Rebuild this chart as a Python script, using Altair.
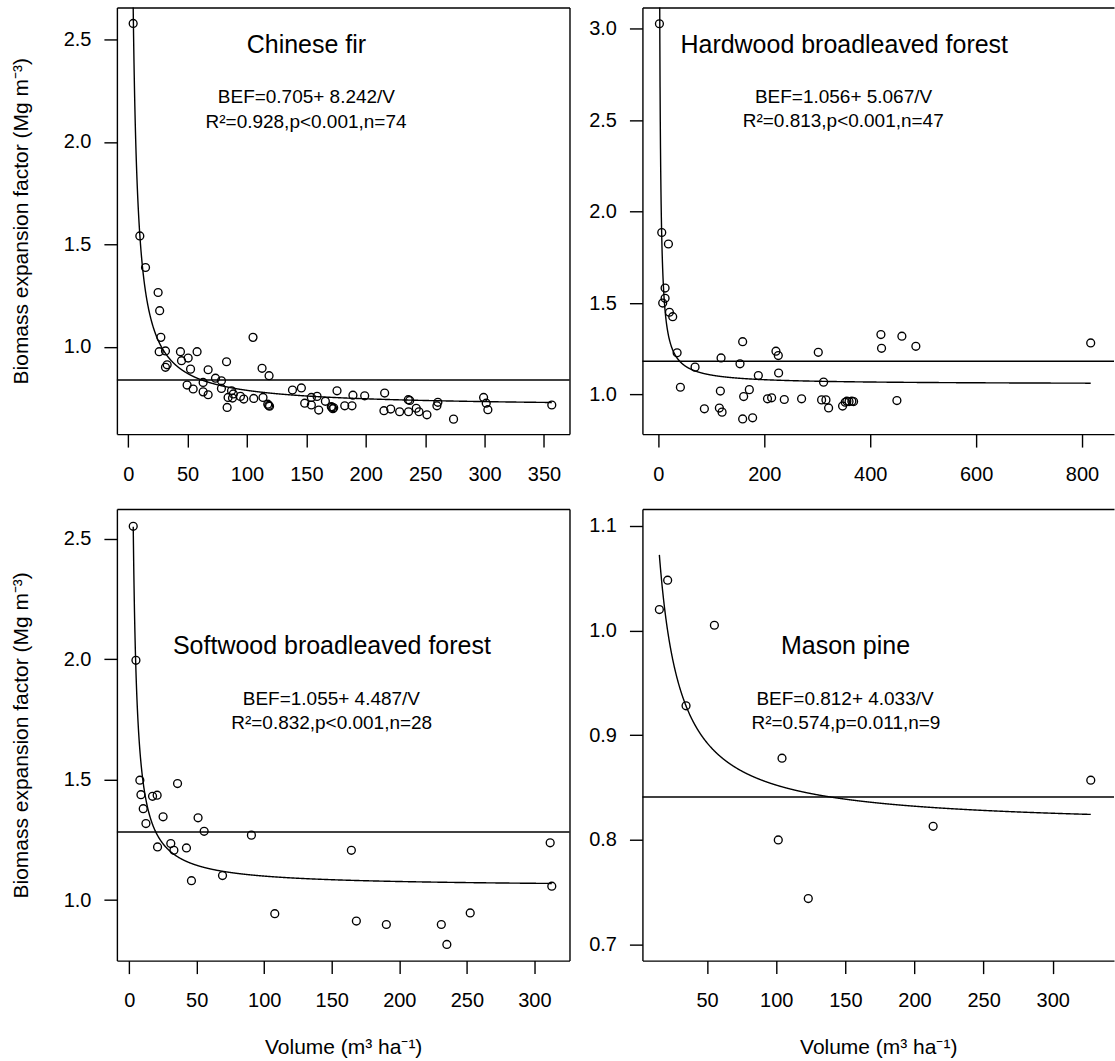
import altair as alt
import pandas as pd

FONT = "Liberation Sans"

# ---- Chinese fir ----
cf_v = [4.2, 9.8, 14.6, 25.2, 26.5, 27.5, 26.1, 31.4, 31.4, 32.8, 44.0, 44.9, 50.5, 52.5, 58.0,
        49.6, 54.7, 63.1, 63.1, 67.3, 67.3, 73.5, 78.5, 78.5, 82.8, 83.3, 84.1, 87.0, 87.8, 94.5,
        97.3, 105.1, 105.7, 112.7, 113.5, 118.6, 117.5, 118.3, 119.0, 138.3, 145.8, 148.6, 154.2,
        154.2, 159.0, 160.4, 166.0, 171.5, 172.3, 173.0, 175.8, 182.3, 188.4, 189.2, 199.1, 215.9,
        215.3, 221.0, 228.5, 236.0, 235.8, 237.0, 242.5, 244.8, 251.5, 260.7, 259.9, 273.9, 299.2,
        301.4, 302.8, 356.6, 88.5, 171.0]
cf_bef = [2.578, 1.541, 1.387, 1.265, 1.176, 1.046, 0.976, 0.980, 0.900, 0.912, 0.976, 0.932, 0.945,
          0.891, 0.976, 0.813, 0.794, 0.826, 0.780, 0.766, 0.888, 0.847, 0.834, 0.797, 0.927, 0.704,
          0.753, 0.785, 0.750, 0.758, 0.745, 1.046, 0.748, 0.895, 0.753, 0.859, 0.720, 0.714, 0.710,
          0.789, 0.799, 0.725, 0.753, 0.716, 0.758, 0.691, 0.734, 0.705, 0.698, 0.702, 0.785, 0.712,
          0.712, 0.764, 0.761, 0.774, 0.688, 0.696, 0.683, 0.683, 0.742, 0.738, 0.700, 0.683, 0.668,
          0.729, 0.712, 0.647, 0.753, 0.725, 0.693, 0.716, 0.770, 0.708]

# ---- Hardwood broadleaved forest ----
hw_v = [1.9, 6.3, 18.9, 12.6, 12.6, 8.1, 20.8, 27.0, 35.3, 41.5, 69.2, 86.8, 115.1, 120.2, 118.3,
        117.0, 154.1, 159.1, 161.0, 159.1, 171.7, 177.9, 188.7, 206.0, 213.8, 222.0, 226.4, 227.0,
        237.7, 270.4, 301.9, 311.9, 308.2, 316.4, 321.4, 347.8, 352.8, 355.9, 360.0, 365.3, 368.6,
        420.2, 421.4, 459.8, 450.4, 486.2, 816.4]
hw_bef = [3.027, 1.886, 1.823, 1.582, 1.526, 1.500, 1.450, 1.426, 1.228, 1.040, 1.150, 0.922, 0.926,
          0.904, 1.200, 1.019, 1.168, 1.289, 0.989, 0.867, 1.027, 0.873, 1.104, 0.977, 0.982, 1.237,
          1.213, 1.118, 0.973, 0.977, 1.231, 1.068, 0.971, 0.971, 0.927, 0.937, 0.958, 0.964, 0.962,
          0.964, 0.962, 1.328, 1.253, 1.319, 0.967, 1.264, 1.282]

# ---- Softwood broadleaved forest ----
sw_v = [3.0, 5.0, 7.9, 35.8, 8.7, 17.3, 20.7, 10.4, 12.4, 25.1, 51.0, 55.5, 90.5, 21.0, 30.8, 33.1,
        42.4, 46.1, 69.1, 107.8, 164.5, 168.2, 190.4, 231.1, 235.2, 252.5, 311.7, 312.9]
sw_bef = [2.552, 1.996, 1.498, 1.484, 1.438, 1.431, 1.436, 1.380, 1.318, 1.346, 1.342, 1.286, 1.270,
          1.221, 1.235, 1.207, 1.217, 1.081, 1.102, 0.944, 1.207, 0.913, 0.899, 0.899, 0.816, 0.947,
          1.238, 1.058]

# ---- Mason pine ----
mp_v = [15.5, 21.5, 55.3, 34.8, 104.2, 327.5, 101.5, 123.2, 213.5]
mp_bef = [1.020, 1.048, 1.005, 0.928, 0.878, 0.857, 0.800, 0.744, 0.813]

# fitted model BEF = a + b / V, and mean BEF (horizontal reference line)
fit_a = [0.705, 1.056, 1.055, 0.812]
fit_b = [8.242, 5.067, 4.487, 4.033]
mean_bef = [0.838, 1.182, 1.283, 0.841]

names = ["Chinese fir", "Hardwood broadleaved forest", "Softwood broadleaved forest", "Mason pine"]
stats = ["R\u00b2=0.928,p<0.001,n=74", "R\u00b2=0.813,p<0.001,n=47",
         "R\u00b2=0.832,p<0.001,n=28", "R\u00b2=0.574,p=0.011,n=9"]

x_ticks = [[0, 50, 100, 150, 200, 250, 300, 350], [0, 200, 400, 600, 800],
           [0, 50, 100, 150, 200, 250, 300], [50, 100, 150, 200, 250, 300]]
y_ticks = [[1.0, 1.5, 2.0, 2.5], [1.0, 1.5, 2.0, 2.5, 3.0],
           [1.0, 1.5, 2.0, 2.5], [0.7, 0.8, 0.9, 1.0, 1.1]]
x_domains = [[-9.5, 371.5], [-30.2, 860.4], [-9.1, 326.0], [3.25, 344.3]]
y_domains = [[0.574, 2.656], [0.784, 3.116], [0.749, 2.624], [0.6847, 1.116]]

Y_TITLE = "Biomass expansion factor (Mg m\u207b\u00b3)"
X_TITLE = "Volume (m\u00b3 ha\u207b\u00b9)"

LINE_W = 1.4


def panel(i, v, bef, width, height, text_pos, left_col, bottom_row):
    df = pd.DataFrame({"v": v, "bef": bef})
    xs = alt.Scale(domain=x_domains[i], nice=False, zero=False)
    ys = alt.Scale(domain=y_domains[i], nice=False, zero=False)

    x_axis = alt.Axis(values=x_ticks[i], format="d", orient="bottom", grid=False,
                      tickSize=13, labelPadding=17, title=X_TITLE if bottom_row else None,
                      titlePadding=26)
    y_axis = alt.Axis(values=y_ticks[i], format=".1f", orient="left", grid=False,
                      tickSize=13, labelPadding=13, title=Y_TITLE if left_col else None,
                      titlePadding=32)
    frame_x = alt.Axis(orient="top", labels=False, ticks=False, title=None, grid=False)
    frame_y = (alt.Axis(orient="right", labels=False, ticks=False, title=None, grid=False)
               if left_col else None)

    points = alt.Chart(df).mark_point(
        shape="circle", filled=False, size=62, color="black", strokeWidth=1.35, opacity=1
    ).encode(
        x=alt.X("v:Q", scale=xs, axis=x_axis),
        y=alt.Y("bef:Q", scale=ys, axis=y_axis),
    )

    lo, hi = min(v), max(v)
    step = (hi - lo) / 2000.0
    curve = alt.Chart(alt.sequence(lo, hi + step / 2, step, as_="v")).transform_calculate(
        bef=f"{fit_a[i]} + {fit_b[i]} / datum.v"
    ).mark_line(color="black", strokeWidth=LINE_W, clip=True).encode(
        x=alt.X("v:Q", scale=xs, axis=frame_x),
        y=alt.Y("bef:Q", scale=ys, axis=frame_y),
    )

    mean_line = alt.Chart(pd.DataFrame({"m": [mean_bef[i]]})).mark_rule(
        color="black", strokeWidth=LINE_W
    ).encode(y=alt.Y("m:Q", scale=ys, axis=None))

    eq = f"BEF={fit_a[i]:.3f}+ {fit_b[i]:.3f}/V"
    labels = [(names[i], 25), (eq, 19), (stats[i], 19)]
    texts = []
    for (t, fs), (tx, ty) in zip(labels, text_pos):
        texts.append(
            alt.Chart(pd.DataFrame({"t": [t]})).mark_text(
                font=FONT, fontSize=fs, color="black", align="center", baseline="alphabetic"
            ).encode(x=alt.value(tx), y=alt.value(ty), text="t:N")
        )

    return alt.layer(points, curve, mean_line, *texts).resolve_axis(
        x="independent", y="independent"
    ).properties(width=width, height=height)


p1 = panel(0, cf_v, cf_bef, 453, 427, [(189.7, 46), (189.7, 96), (189.3, 120.3)], True, False)
p2 = panel(1, hw_v, hw_bef, 472, 427, [(202, 45.3), (201.3, 96), (201, 120)], False, False)
p3 = panel(2, sw_v, sw_bef, 453, 452, [(215.2, 145.3), (214.7, 196), (215, 220.3)], True, True)
p4 = panel(3, mp_v, mp_bef, 472, 452, [(203.3, 145.3), (202.8, 196), (203.7, 220.3)], False, True)

top = alt.hconcat(p1, p2, spacing=18)
bottom = alt.hconcat(p3, p4, spacing=18)

chart = alt.vconcat(top, bottom, spacing=25).properties(
    padding={"left": 10, "top": 7, "right": 0, "bottom": 0}
).configure(
    background="white"
).configure_view(
    stroke=None
).configure_axis(
    labelFont=FONT, labelFontSize=20, labelColor="black",
    titleFont=FONT, titleFontSize=21, titleFontWeight="normal", titleColor="black",
    domainColor="black", domainWidth=LINE_W, tickColor="black", tickWidth=LINE_W,
    labelFlush=False, labelOverlap=False,
)

chart.save("out.html", embed_options={"renderer": "svg", "actions": False})
